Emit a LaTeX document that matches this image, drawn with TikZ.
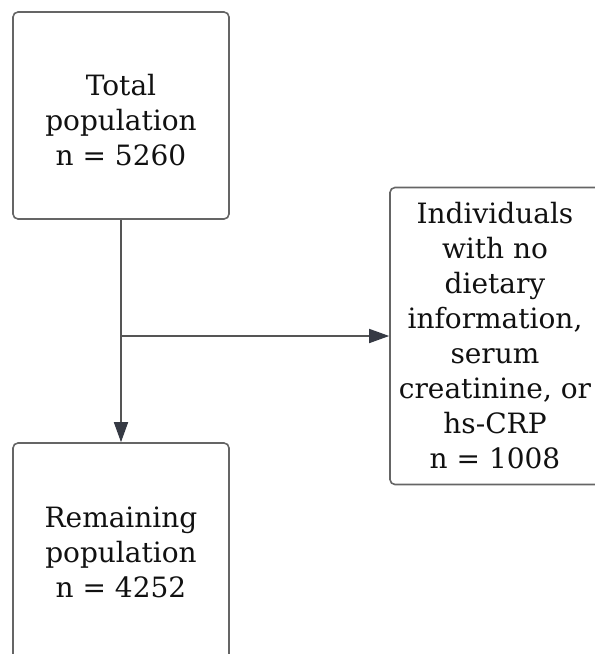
\documentclass[tikz,border=0pt]{standalone}
\usepackage{fontspec}
\setmainfont{DejaVu Serif}
\usetikzlibrary{arrows.meta}
\definecolor{boxline}{HTML}{656565}
\definecolor{conn}{HTML}{555555}
\definecolor{tipc}{HTML}{363A44}
\definecolor{txt}{HTML}{111111}
\tikzset{
  flowbox/.style={draw=boxline, line width=1.6pt, rounded corners=5pt, align=center,
    text=txt, font=\fontsize{28}{35}\selectfont, inner sep=0pt},
  boxtext/.style={align=center, text=txt, font=\fontsize{28}{35}\selectfont, inner sep=0pt},
  conarrow/.style={draw=conn, line width=1.6pt,
    -{Triangle[length=20pt,width=14pt,fill=tipc,color=tipc]}}
}
\begin{document}
\begin{tikzpicture}[x=1pt,y=1pt]
\useasboundingbox (0,0) rectangle (595,-654);
\node[flowbox, minimum width=216pt, minimum height=207pt] (top) at (121,-115.5) {};
\node[boxtext] (toptext) at ([yshift=-5pt]top.center) {Total\\population\\n = 5260};
\node[flowbox, minimum width=216pt, minimum height=218pt] (bot) at (121,-552)
  {Remaining\\population\\n = 4252};
\node[flowbox, minimum width=210pt, minimum height=297pt] (excl) at (495,-336)
  {Individuals\\with no\\dietary\\information,\\serum\\creatinine, or\\hs-CRP\\n = 1008};
\draw[conarrow] (top.south) -- (bot.north);
\coordinate (junc) at (top.south |- excl.west);
\draw[conarrow] (junc) -- (excl.west);
\end{tikzpicture}
\end{document}
